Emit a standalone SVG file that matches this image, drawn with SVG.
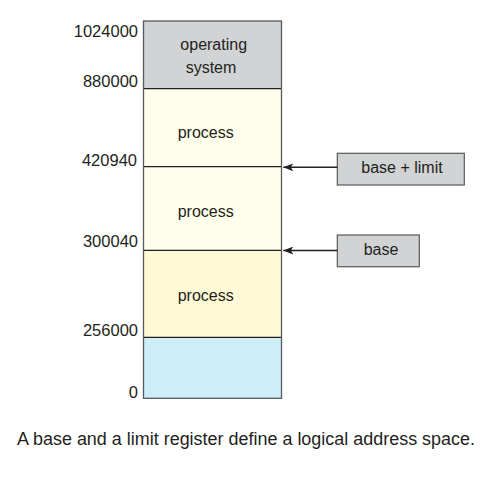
<svg xmlns="http://www.w3.org/2000/svg" width="492" height="481" viewBox="0 0 492 481">
<style>
text{font-family:"Liberation Sans",Arial,sans-serif;font-size:16px;fill:#231f20}
.lbl{text-anchor:end;font-size:16.5px}
.c{text-anchor:middle}
.div{stroke:#231f20;stroke-width:1.2}
.reg{fill:#d1d3d4;stroke:#58595b;stroke-width:1.2}
.conn{stroke:#231f20;stroke-width:1.4;fill:none}
</style>
<defs>
<marker id="ah" viewBox="0 0 10 8" refX="10" refY="4" markerWidth="10" markerHeight="8" markerUnits="userSpaceOnUse" orient="auto">
<path d="M0,0 L10,4 L0,8 L2.5,4 Z" fill="#231f20"/>
</marker>
</defs>
<rect width="492" height="481" fill="#ffffff"/>
<g id="memory">
<rect id="os" x="143.5" y="21" width="138" height="67.7" fill="#d1d3d4"/>
<rect id="process1" x="143.5" y="88.7" width="138" height="78" fill="#fffdeb"/>
<rect id="process2" x="143.5" y="166.7" width="138" height="83.6" fill="#fffdeb"/>
<rect id="process3" x="143.5" y="250.3" width="138" height="87" fill="#fff9d6"/>
<rect id="free" x="143.5" y="337.3" width="138" height="61" fill="#cdedf9"/>
<line class="div" x1="143.5" y1="88.7" x2="281.5" y2="88.7"/>
<line class="div" x1="143.5" y1="166.7" x2="281.5" y2="166.7"/>
<line class="div" x1="143.5" y1="250.3" x2="281.5" y2="250.3"/>
<line class="div" x1="143.5" y1="337.3" x2="281.5" y2="337.3"/>
<rect x="143.5" y="21" width="138" height="377.3" fill="none" stroke="#58595b" stroke-width="1.3"/>
<text class="c" x="213.7" y="50">operating</text>
<text class="c" x="211" y="72.7">system</text>
<text class="c" x="205.7" y="137.7">process</text>
<text class="c" x="205.7" y="216.7">process</text>
<text class="c" x="205.7" y="300.7">process</text>
</g>
<g id="addresses">
<text class="lbl" x="138" y="36.5">1024000</text>
<text class="lbl" x="138" y="87">880000</text>
<text class="lbl" x="137" y="166">420940</text>
<text class="lbl" x="138" y="247">300040</text>
<text class="lbl" x="138" y="336">256000</text>
<text class="lbl" x="138" y="397.5">0</text>
</g>
<g id="limit-register">
<rect class="reg" x="337.3" y="153.3" width="127" height="31.7"/>
<text class="c" x="402" y="172.7">base + limit</text>
</g>
<g id="base-register">
<rect class="reg" x="337.3" y="235" width="82" height="31.7"/>
<text class="c" x="381" y="255">base</text>
</g>
<g id="connectors">
<line class="conn" x1="337.3" y1="167.3" x2="283.3" y2="167.3" marker-end="url(#ah)"/>
<line class="conn" x1="337.3" y1="250.5" x2="283.3" y2="250.5" marker-end="url(#ah)"/>
</g>
<text id="caption" x="17" y="445" style="font-size:17.5px" textLength="458" lengthAdjust="spacingAndGlyphs">A base and a limit register define a logical address space.</text>
</svg>
